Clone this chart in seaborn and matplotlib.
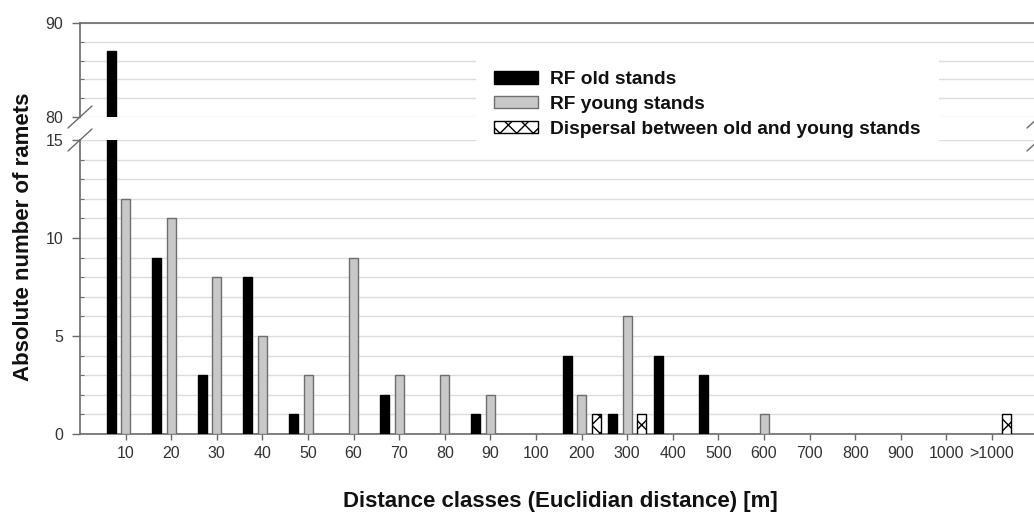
import numpy as np
import pandas as pd
import matplotlib
matplotlib.use("Agg")
import matplotlib.pyplot as plt
import seaborn as sns
from matplotlib.patches import Patch
from matplotlib.ticker import MultipleLocator, FixedLocator

# ---------------- data ----------------
categories = ["10", "20", "30", "40", "50", "60", "70", "80", "90", "100",
              "200", "300", "400", "500", "600", "700", "800", "900", "1000", ">1000"]
old_stands = [87, 9, 3, 8, 1, 0, 2, 0, 1, 0, 4, 1, 4, 3, 0, 0, 0, 0, 0, 0]
young_stands = [12, 11, 8, 5, 3, 9, 3, 3, 2, 0, 2, 6, 0, 0, 1, 0, 0, 0, 0, 0]
dispersal = [0, 0, 0, 0, 0, 0, 0, 0, 0, 0, 1, 1, 0, 0, 0, 0, 0, 0, 0, 1]
series_names = ["RF old stands", "RF young stands",
                "Dispersal between old and young stands"]

df = pd.DataFrame({
    "category": categories * 3,
    "value": old_stands + young_stands + dispersal,
    "series": np.repeat(series_names, len(categories)),
})

# ---------------- style ----------------
sns.set_theme(style="white")
plt.rcParams["font.family"] = ["Liberation Sans", "DejaVu Sans"]
plt.rcParams["hatch.linewidth"] = 1.0

W, H = 1034, 513
fig = plt.figure(figsize=(W / 100, H / 100), dpi=100)


def frac(x0, y0, x1, y1):
    return [x0 / W, 1 - y1 / H, (x1 - x0) / W, (y1 - y0) / H]


ax_top = fig.add_axes(frac(80, 23, 1039, 117))
ax_bot = fig.add_axes(frac(80, 140, 1039, 434))

fills = {series_names[0]: "black", series_names[1]: "#c8c8c8", series_names[2]: "white"}
edges = {series_names[0]: "black", series_names[1]: "#6e6e6e", series_names[2]: "black"}
hatches = {series_names[0]: None, series_names[1]: None, series_names[2]: "xx"}

spine_col = "#6a6a6a"
grid_col = "#dcdcdc"

for ax in (ax_top, ax_bot):
    sns.barplot(data=df, x="category", y="value", hue="series", order=categories,
                hue_order=series_names, palette=fills, width=0.954, gap=0.38,
                errorbar=None, saturation=1, legend=False, ax=ax, zorder=3)
    for cont, name in zip(ax.containers, series_names):
        for bar in cont:
            bar.set_edgecolor(edges[name])
            bar.set_linewidth(1.0)
            if hatches[name]:
                bar.set_hatch(hatches[name])
            if bar.get_height() == 0:
                bar.set_visible(False)
    ax.set_xlim(-1.0, 20.03)
    ax.set_xlabel("")
    ax.set_ylabel("")
    ax.set_axisbelow(True)
    ax.grid(False)
    ax.yaxis.grid(True, which="both", color=grid_col, linewidth=1.0)
    for s in ax.spines.values():
        s.set_color(spine_col)
        s.set_linewidth(1.2)
    ax.spines["right"].set_visible(False)
    ax.tick_params(axis="y", which="major", direction="out", length=6, width=1.0,
                   color=spine_col, labelsize=11.5, labelcolor="#333333", pad=6, left=True)
    ax.tick_params(axis="y", which="minor", direction="in", length=3, width=0.8,
                   color=spine_col, left=True)

# upper panel (80 - 90)
ax_top.set_ylim(80, 90)
ax_top.yaxis.set_major_locator(FixedLocator([80, 90]))
ax_top.yaxis.set_minor_locator(MultipleLocator(2))
ax_top.spines["bottom"].set_visible(False)
ax_top.tick_params(axis="x", bottom=False, labelbottom=False)

# lower panel (0 - 15)
ax_bot.set_ylim(0, 15)
ax_bot.yaxis.set_major_locator(MultipleLocator(5))
ax_bot.yaxis.set_minor_locator(MultipleLocator(1))
ax_bot.spines["top"].set_visible(False)
ax_bot.tick_params(axis="x", bottom=True, direction="out", length=4, width=1.0,
                   color=spine_col, labelsize=11.5, labelcolor="#333333", pad=5)

# break marks
def brk(ax, ybase, hpx):
    dx = 12 / 959
    dy = 11 / hpx
    for x0 in (0.0, 1.0):
        ax.plot([x0 - dx, x0 + dx], [ybase - dy, ybase + dy], transform=ax.transAxes,
                color=spine_col, lw=1.0, clip_on=False, zorder=10)

brk(ax_top, 0.0, 94)
brk(ax_bot, 1.0, 294)

# labels
fig.text(24 / W, 1 - 237 / H, "Absolute number of ramets", rotation=90,
         ha="center", va="center", fontsize=16, fontweight="bold", color="#111111")
fig.text(560 / W, 1 - 501 / H, "Distance classes (Euclidian distance) [m]",
         ha="center", va="center", fontsize=16, fontweight="bold", color="#111111")

# legend
handles = [Patch(facecolor=fills[n], edgecolor=edges[n], hatch=hatches[n], linewidth=1.0)
           for n in series_names]
leg = fig.legend(handles, series_names, loc="upper left",
                 bbox_to_anchor=(476 / W, 1 - 53 / H), borderaxespad=0,
                 frameon=True, facecolor="white", edgecolor="none", framealpha=1,
                 fancybox=False, prop={"weight": "bold", "size": 13.8},
                 handlelength=2.3, handleheight=0.6, handletextpad=0.6,
                 labelspacing=0.4, borderpad=0.95)
for t in leg.get_texts():
    t.set_color("#111111")

fig.savefig("out.png", dpi=100)
